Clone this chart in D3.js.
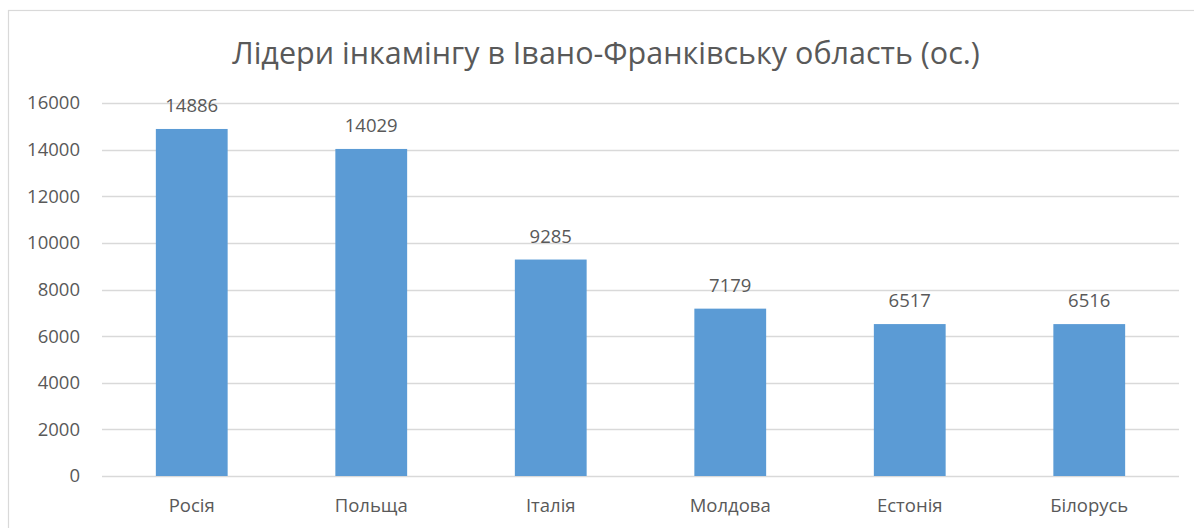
<!DOCTYPE html>
<html>
<head>
<meta charset="utf-8">
<script src="https://cdnjs.cloudflare.com/ajax/libs/d3/7.8.5/d3.min.js"></script>
<style>
body { margin: 0; background: #fff; }
text { font-family: "Open Sans", "Noto Sans", sans-serif; fill: #595959; }
</style>
</head>
<body>
<div id="graph"></div>
<script>
var title = "Лідери інкамінгу в Івано-Франківську область (ос.)";
var countries = ["Росія", "Польща", "Італія", "Молдова", "Естонія", "Білорусь"];
var visitors = [14886, 14029, 9285, 7179, 6517, 6516];
var yTicks = [0, 2000, 4000, 6000, 8000, 10000, 12000, 14000, 16000];

var W = 1194, H = 528;
var margin = {top: 103, right: 15, bottom: 52, left: 102},
	width = 1179 - margin.left,
	height = 476 - margin.top;

var svg = d3.select("div#graph").append("svg")
	.attr("width", W)
	.attr("height", H);

// chart frame
svg.append("rect")
	.attr("x", 8.5).attr("y", 10.5)
	.attr("width", W + 10).attr("height", H + 10)
	.attr("fill", "none").attr("stroke", "#d9d9d9").attr("stroke-width", 1.2);

svg.append("text")
	.attr("x", 606).attr("y", 64)
	.attr("text-anchor", "middle")
	.style("font-size", "30.5px")
	.text(title);

var g = svg.append("g")
	.attr("transform", "translate(" + margin.left + "," + margin.top + ")");

var xScale = d3.scaleBand().domain(countries).range([0, width]).paddingInner(0.6).paddingOuter(0.3);
var yScale = d3.scaleLinear().domain([0, 16000]).range([height, 0]);

// gridlines
g.selectAll("line.grid").data(yTicks).enter().append("line")
	.attr("class", "grid")
	.attr("x1", 0).attr("x2", width)
	.attr("y1", function(d) { return Math.round(yScale(d)) + 0.5; })
	.attr("y2", function(d) { return Math.round(yScale(d)) + 0.5; })
	.attr("stroke", "#d9d9d9").attr("stroke-width", 1.3);

// y axis labels
var yAxis = g.append("g")
	.call(d3.axisLeft(yScale).tickValues(yTicks).tickFormat(d3.format("d")).tickSize(0).tickPadding(22));
yAxis.select(".domain").remove();
yAxis.selectAll("text").style("font-size", "18.5px").attr("fill", "#595959");

// bars
g.selectAll("rect.bar").data(visitors).enter().append("rect")
	.attr("class", "bar")
	.attr("x", function(d, i) { return xScale(countries[i]); })
	.attr("width", xScale.bandwidth())
	.attr("y", function(d) { return yScale(d); })
	.attr("height", function(d) { return height - yScale(d); })
	.attr("fill", "#5b9bd5");

// value labels
g.selectAll("text.val").data(visitors).enter().append("text")
	.attr("class", "val")
	.attr("x", function(d, i) { return xScale(countries[i]) + xScale.bandwidth() / 2; })
	.attr("y", function(d) { return yScale(d) - 17; })
	.attr("text-anchor", "middle")
	.style("font-size", "18.5px")
	.text(function(d) { return d; });

// x axis labels
var xAxis = g.append("g")
	.attr("transform", "translate(0," + height + ")")
	.call(d3.axisBottom(xScale).tickSize(0).tickPadding(23));
xAxis.select(".domain").remove();
xAxis.selectAll("text").style("font-size", "18.5px").attr("fill", "#595959");
</script>
</body>
</html>
